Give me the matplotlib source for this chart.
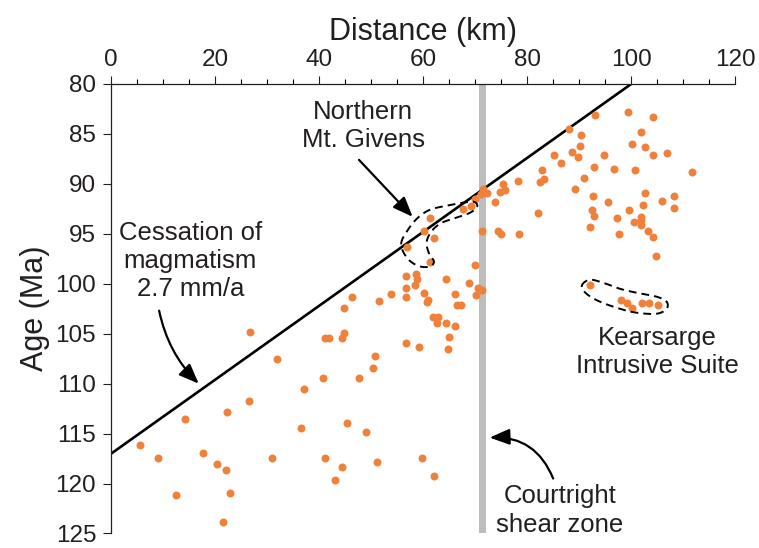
import numpy as np
import matplotlib
import matplotlib.pyplot as plt
from matplotlib.patches import ArrowStyle

matplotlib.use('Agg')

plt.rcParams['font.family'] = ['Liberation Sans', 'DejaVu Sans']

# --- zircon ages vs. distance across the batholith --- #
distance_km = [
    # western samples
    5.7, 9.1, 14.3, 12.6, 17.8, 20.4, 22.1, 23.0, 21.6, 22.4, 26.5, 26.8,
    31.0, 31.9,
    # central samples
    36.6, 37.1, 40.8, 41.2, 41.2, 42.0, 43.1, 44.4, 44.4, 44.9, 44.9, 45.4,
    46.3, 47.7, 49.0, 50.3, 50.7, 51.2, 51.5, 53.8, 56.7, 56.7, 56.7, 56.7,
    58.5, 58.7, 58.8, 59.3, 59.8, 60.2, 60.7, 61.0, 61.9, 62.1, 62.7, 62.8,
    64.5, 64.5, 64.8, 65.0, 66.2, 66.2, 66.5, 67.2, 68.8, 70.0, 70.2, 70.5,
    71.4,
    # Northern Mt. Givens
    57.0, 60.2, 61.3, 61.3, 62.2,
    # near the shear zone
    67.7, 69.3, 70.0, 71.1, 71.3, 71.6, 72.3, 73.9, 74.5, 74.8, 74.9, 75.3,
    75.7, 78.3, 78.5,
    # eastern samples
    82.0, 82.4, 82.9, 83.2, 85.2, 86.6, 88.0, 88.6, 89.2, 89.8, 90.1, 90.4,
    91.0, 92.1, 92.4, 92.7, 92.9, 92.9, 93.0, 94.7, 95.6, 96.7, 97.3, 97.6,
    99.3, 99.6, 100.2, 100.5, 100.8, 101.9, 101.9, 101.9, 101.9, 102.2,
    102.7, 102.7, 103.3, 104.1, 104.1, 104.2, 104.8, 105.9, 106.8, 108.2,
    108.2, 111.7,
    # Kearsarge Intrusive Suite
    92.1, 98.1, 99.1, 100.1, 102.0, 103.4, 105.1,
]
age_ma = [
    116.1, 117.4, 113.5, 121.1, 116.9, 118.0, 118.6, 120.9, 123.9, 112.8,
    111.7, 104.8,
    117.4, 107.5,
    114.4, 110.5, 109.4, 105.4, 117.4, 105.4, 119.6, 105.4, 118.3, 104.9,
    102.4, 113.9,
    101.3, 109.4, 114.8, 108.4, 107.2, 117.8, 101.7, 101.0, 99.2, 100.4,
    101.3, 105.9,
    100.1, 99.0, 99.5, 106.3, 117.4, 100.9, 101.8, 101.6, 103.3, 119.2,
    103.9, 103.3,
    99.5, 103.9, 106.5, 105.3, 101.0, 104.2, 102.1, 102.1, 99.9, 98.1, 101.1,
    100.4,
    100.6,
    96.3, 94.7, 93.4, 97.8, 95.4,
    92.5, 92.2, 91.5, 91.0, 94.7, 90.5, 90.9, 91.8, 94.7, 90.8, 95.0, 90.0,
    90.6, 89.7, 95.0,
    92.9, 89.8, 88.6, 89.5, 87.1, 87.9, 84.5, 86.8, 90.5, 87.3, 86.2, 85.1,
    89.4, 94.3, 92.6, 91.2, 88.3, 93.2, 83.1, 87.1, 91.8, 88.5, 93.4, 95.0,
    82.8, 92.6, 86.0, 93.8, 88.6, 84.8, 93.3, 93.6, 94.1, 92.1,
    86.3, 90.9, 94.7, 83.3, 87.1, 95.3, 97.2, 91.7, 86.9, 91.2,
    92.4, 88.8,
    100.1, 101.6, 101.9, 102.4, 101.9, 101.9, 102.1,
]

# cessation of magmatism: 2.7 mm/a = 2.7 km/Ma, reaching 80 Ma at 100 km
rate_km_per_ma = 2.7
line_km = np.array([0, 100])
line_age = 80 + (100 - line_km) / rate_km_per_ma

# Courtright shear zone position (km)
shear_zone = (70.8, 72.1)

# dashed outlines around the two groups
givens_km = [55.8, 57.1, 59.0, 61.3, 64.4, 67.5, 69.8, 70.4, 69.0, 66.3,
             63.6, 61.7, 60.7, 61.1, 62.1, 61.1, 59.0, 56.9]
givens_age = [96.0, 94.6, 93.4, 92.6, 92.2, 91.9, 91.8, 92.3, 92.9, 93.4,
              93.9, 94.7, 95.8, 96.9, 97.8, 98.3, 98.2, 97.4]
kearsarge_km = [90.5, 92.0, 94.6, 97.8, 101.0, 104.9, 106.8, 106.8, 104.9,
                101.0, 97.8, 94.0, 91.4]
kearsarge_age = [100.2, 99.6, 99.9, 100.5, 100.9, 101.3, 101.8, 102.5, 103.0,
                 102.9, 102.5, 101.8, 101.0]


def closed_curve(xs, ys, n=20):
    # periodic Catmull-Rom spline through the outline points
    pts = np.column_stack([xs, ys])
    m = len(pts)
    t = np.linspace(0, 1, n, endpoint=False)[:, None]
    segs = []
    for i in range(m):
        p0, p1, p2, p3 = pts[i - 1], pts[i], pts[(i + 1) % m], pts[(i + 2) % m]
        segs.append(0.5 * (2 * p1 + (-p0 + p2) * t
                           + (2 * p0 - 5 * p1 + 4 * p2 - p3) * t ** 2
                           + (-p0 + 3 * p1 - 3 * p2 + p3) * t ** 3))
    segs.append(segs[0][:1])
    return np.vstack(segs)


text_color = '#231f20'
orange = '#f0813a'

fig = plt.figure(figsize=(7.59, 5.48), dpi=100)
ax = fig.add_axes([0.1459, 0.0265, 0.8229, 0.8203])

ax.axvspan(*shear_zone, color='#bdbdbd', lw=0, zorder=1)
ax.plot(line_km, line_age, color='black', lw=1.9, zorder=2, solid_capstyle='butt')
ax.scatter(distance_km, age_ma, s=33, color=orange, lw=0, zorder=3)

for xs, ys in [(givens_km, givens_age), (kearsarge_km, kearsarge_age)]:
    c = closed_curve(xs, ys)
    ax.plot(c[:, 0], c[:, 1], color='black', lw=1.4, ls=(0, (4, 2.6)), zorder=4)

# axes: distance along the top, age increasing downward
ax.set_xlim(0, 120)
ax.set_ylim(125, 80)
ax.set_xticks(np.arange(0, 121, 20))
ax.set_xticks(np.arange(0, 121, 5), minor=True)
ax.set_yticks(np.arange(80, 126, 5))
ax.xaxis.tick_top()
ax.xaxis.set_label_position('top')
ax.tick_params(axis='x', which='major', length=5.5, width=0.8, pad=4,
               labelsize=17.5, colors=text_color)
ax.tick_params(axis='x', which='minor', length=3.5, width=0.8)
ax.tick_params(axis='y', which='major', length=5.5, width=0.8, pad=5,
               labelsize=17.5, colors=text_color)
for side in ['right', 'bottom']:
    ax.spines[side].set_visible(False)
for side in ['left', 'top']:
    ax.spines[side].set_linewidth(0.9)
    ax.spines[side].set_color(text_color)

ax.set_xlabel('Distance (km)', fontsize=22, color=text_color, labelpad=6)
ax.set_ylabel('Age (Ma)', fontsize=22, color=text_color, labelpad=4)

# annotations
arrow = dict(arrowstyle=ArrowStyle('-|>', head_length=0.55, head_width=0.22),
             mutation_scale=22, color='black', lw=1.6, shrinkA=0, shrinkB=0)

ax.text(15.3, 97.7, 'Cessation of\nmagmatism\n2.7 mm/a', ha='center', va='center',
        fontsize=18.5, color=text_color, linespacing=1.22)
ax.annotate('', xy=(16.9, 110.0), xytext=(9.3, 102.7),
            arrowprops=dict(arrow, connectionstyle='arc3,rad=0.15'))

ax.text(48.5, 84.2, 'Northern\nMt. Givens', ha='center', va='center',
        fontsize=18.5, color=text_color, linespacing=1.22)
ax.annotate('', xy=(58.0, 93.3), xytext=(47.7, 87.6),
            arrowprops=dict(arrow, connectionstyle='arc3,rad=0'))

ax.text(105.1, 106.8, 'Kearsarge\nIntrusive Suite', ha='center', va='center',
        fontsize=18.5, color=text_color, linespacing=1.22)

ax.text(86.3, 122.7, 'Courtright\nshear zone', ha='center', va='center',
        fontsize=18.5, color=text_color, linespacing=1.22)
ax.annotate('', xy=(72.8, 115.4), xytext=(85.0, 119.5),
            arrowprops=dict(arrow, connectionstyle='arc3,rad=0.35'))

plt.savefig('out.png', dpi=100)
